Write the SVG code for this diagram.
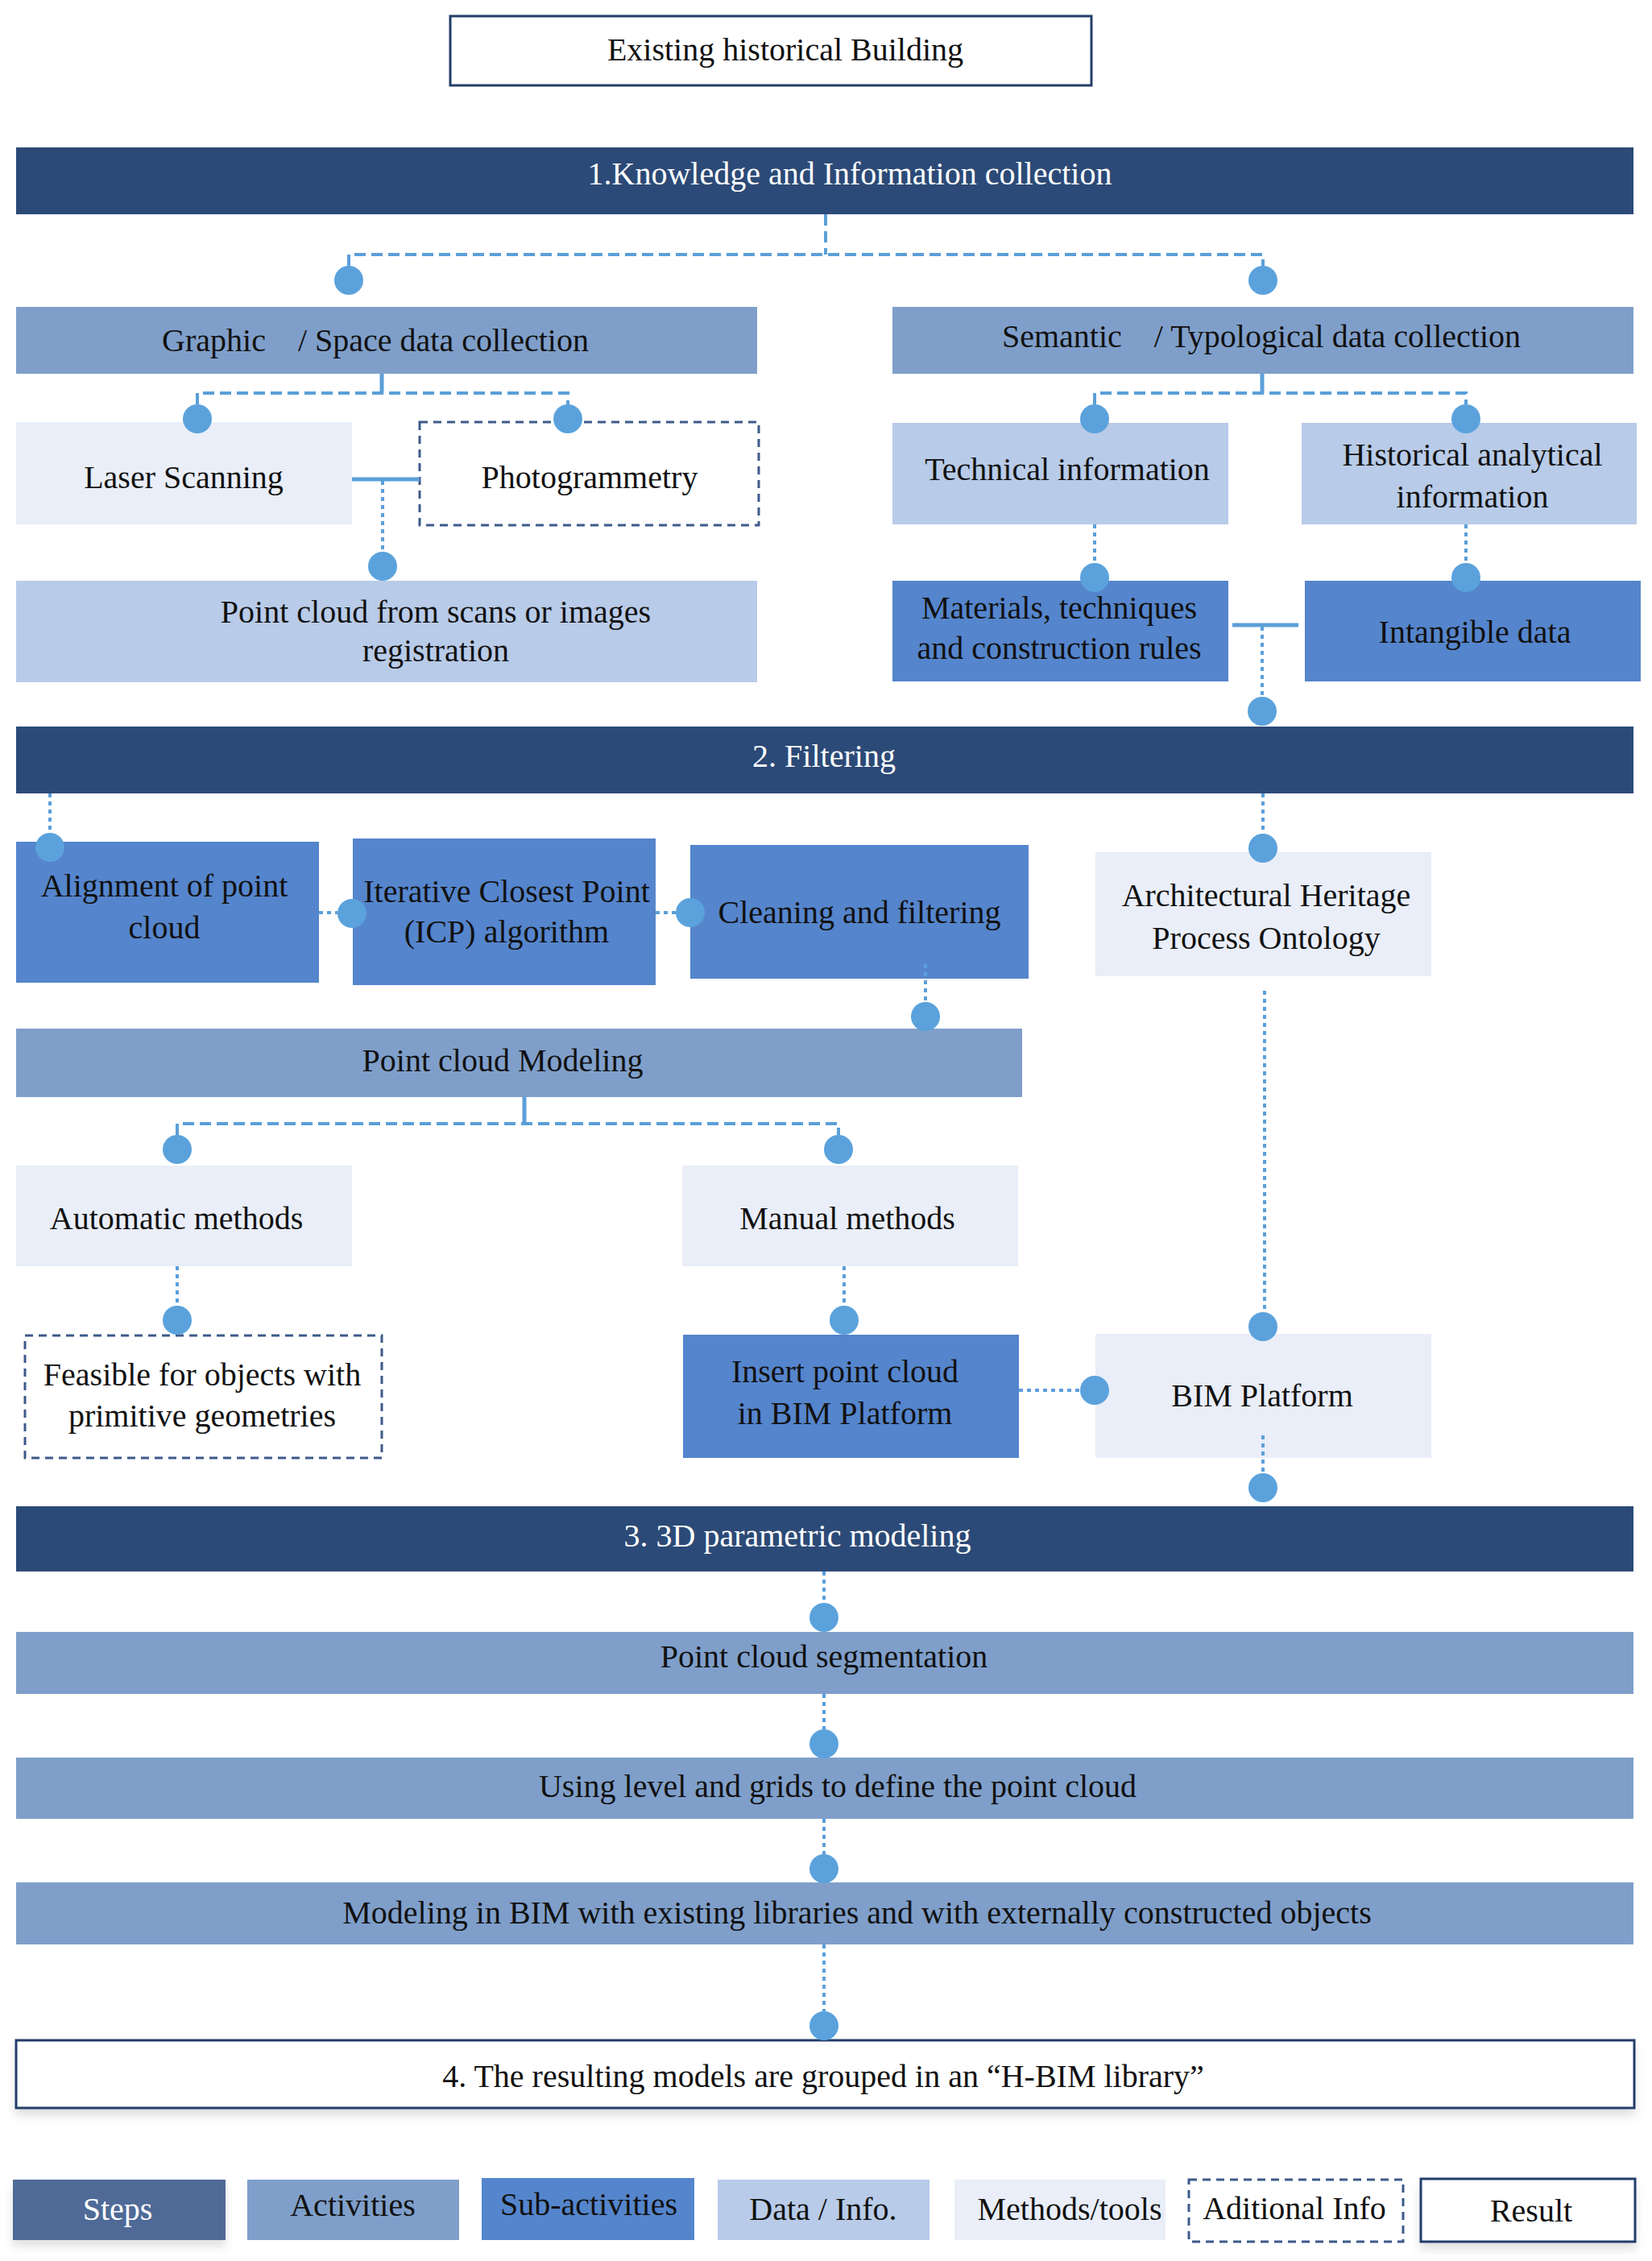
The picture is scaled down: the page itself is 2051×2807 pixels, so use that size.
<svg xmlns="http://www.w3.org/2000/svg" width="2051" height="2807" viewBox="0 0 2051 2807">
<defs>
<style>
.step{fill:#2c4a77}
.act{fill:#7f9fca}
.sub{fill:#5585cc}
.data{fill:#b8cbe8}
.meth{fill:#e9eef8}
.add{fill:#fff;stroke:#3d5a8a;stroke-width:3;stroke-dasharray:10 7}
.res{fill:#fff;stroke:#233e68;stroke-width:3}
.lstep{fill:#4f6b97}
text{font-family:"Liberation Serif","Times New Roman",serif;font-size:40px;fill:#111;text-anchor:middle}
text.w{fill:#fff}
.pre{white-space:pre}
.dash{stroke:#5b9fd9;stroke-width:4;stroke-dasharray:14 7;fill:none}
.dot{stroke:#5b9fd9;stroke-width:4;stroke-dasharray:5 5;fill:none}
.solid{stroke:#5b9fd9;stroke-width:5;fill:none}
.knob{fill:#5ba2dc}
</style>
<filter id="sh" x="-10%" y="-20%" width="120%" height="160%">
<feDropShadow dx="0" dy="8" stdDeviation="6" flood-color="#000" flood-opacity="0.12"/>
</filter>
</defs>
<rect width="2051" height="2807" fill="#fff"/>

<g id="n-building"><rect class="res" x="559" y="20" width="796" height="86"/><text x="975" y="75">Existing historical Building</text></g>
<g id="n-step1"><rect class="step" x="20" y="183" width="2008" height="83"/><text class="w" x="1055" y="229">1.Knowledge and Information collection</text></g>
<g id="n-graphic"><rect class="act" x="20" y="381" width="920" height="83"/><text class="pre" xml:space="preserve" x="466" y="436">Graphic    / Space data collection</text></g>
<g id="n-semantic"><rect class="act" x="1108" y="381" width="920" height="83"/><text class="pre" xml:space="preserve" x="1566" y="431">Semantic    / Typological data collection</text></g>
<g id="n-laser"><rect class="meth" x="20" y="524" width="417" height="127"/><text x="228" y="606">Laser Scanning</text></g>
<g id="n-photo"><rect class="add" x="521" y="524" width="421" height="128"/><text x="732" y="606">Photogrammetry</text></g>
<g id="n-pointcloud"><rect class="data" x="20" y="721" width="920" height="126"/><text x="541" y="773">Point cloud from scans or images</text><text x="541" y="821">registration</text></g>
<g id="n-technical"><rect class="data" x="1108" y="525" width="417" height="126"/><text x="1325" y="596">Technical information</text></g>
<g id="n-historical"><rect class="data" x="1616" y="525" width="416" height="126"/><text x="1828" y="578">Historical analytical</text><text x="1828" y="630">information</text></g>
<g id="n-materials"><rect class="sub" x="1108" y="721" width="417" height="125"/><text x="1315" y="768">Materials, techniques</text><text x="1315" y="818">and construction rules</text></g>
<g id="n-intangible"><rect class="sub" x="1620" y="721" width="417" height="125"/><text x="1831" y="798">Intangible data</text></g>
<g id="n-step2"><rect class="step" x="20" y="902" width="2008" height="83"/><text class="w" x="1023" y="952">2. Filtering</text></g>
<g id="n-alignment"><rect class="sub" x="20" y="1045" width="376" height="175"/><text x="204" y="1113">Alignment of point</text><text x="204" y="1165">cloud</text></g>
<g id="n-icp"><rect class="sub" x="438" y="1041" width="376" height="182"/><text x="629" y="1120">Iterative Closest Point</text><text x="629" y="1170">(ICP) algorithm</text></g>
<g id="n-cleaning"><rect class="sub" x="857" y="1049" width="420" height="166"/><text x="1067" y="1146">Cleaning and filtering</text></g>
<g id="n-ontology"><rect class="meth" x="1360" y="1058" width="417" height="154"/><text x="1572" y="1125">Architectural Heritage</text><text x="1572" y="1178">Process Ontology</text></g>
<g id="n-pcmodel"><rect class="act" x="20" y="1277" width="1249" height="85"/><text x="624" y="1330">Point cloud Modeling</text></g>
<g id="n-auto"><rect class="meth" x="20" y="1447" width="417" height="125"/><text x="219" y="1526">Automatic methods</text></g>
<g id="n-manual"><rect class="meth" x="847" y="1447" width="417" height="125"/><text x="1052" y="1526">Manual methods</text></g>
<g id="n-feasible"><rect class="add" x="31" y="1658" width="443" height="152"/><text x="251" y="1720">Feasible for objects with</text><text x="251" y="1771">primitive geometries</text></g>
<g id="n-insert"><rect class="sub" x="848" y="1657" width="417" height="153"/><text x="1049" y="1716">Insert point cloud</text><text x="1049" y="1768">in BIM Platform</text></g>
<g id="n-bim"><rect class="meth" x="1360" y="1656" width="417" height="154"/><text x="1567" y="1746">BIM Platform</text></g>
<g id="n-step3"><rect class="step" x="20" y="1870" width="2008" height="81"/><text class="w" x="990" y="1920">3. 3D parametric modeling</text></g>
<g id="n-seg"><rect class="act" x="20" y="2026" width="2008" height="77"/><text x="1023" y="2070">Point cloud segmentation</text></g>
<g id="n-levels"><rect class="act" x="20" y="2182" width="2008" height="76"/><text x="1040" y="2231">Using level and grids to define the point cloud</text></g>
<g id="n-modeling"><rect class="act" x="20" y="2337" width="2008" height="77"/><text x="1064" y="2388">Modeling in BIM with existing libraries and with externally constructed objects</text></g>
<g id="n-result"><rect class="res" x="20" y="2533" width="2009" height="84" filter="url(#sh)"/><text x="1022" y="2591">4. The resulting models are grouped in an “H-BIM library”</text></g>

<g id="legend">
<g id="l-steps"><rect class="lstep" x="16" y="2706" width="264" height="75" filter="url(#sh)"/><text class="w" x="146" y="2756">Steps</text></g>
<g id="l-act"><rect class="act" x="307" y="2706" width="263" height="75"/><text x="438" y="2751">Activities</text></g>
<g id="l-sub"><rect class="sub" x="598" y="2704" width="264" height="77"/><text x="731" y="2750">Sub-activities</text></g>
<g id="l-data"><rect class="data" x="891" y="2706" width="263" height="75"/><text x="1022" y="2756">Data / Info.</text></g>
<g id="l-meth"><rect class="meth" x="1185" y="2706" width="262" height="75"/><text x="1328" y="2756">Methods/tools</text></g>
<g id="l-add"><rect class="add" x="1476" y="2706" width="266" height="77"/><text x="1607" y="2755">Aditional Info</text></g>
<g id="l-res"><rect class="res" x="1764" y="2705" width="266" height="78" filter="url(#sh)"/><text x="1901" y="2758">Result</text></g>
</g>

<g id="connectors">
<path class="dash" d="M1025 266V316M433 330V316H1568V330"/>
<path class="solid" d="M474 464V488"/>
<path class="dash" d="M245 502V488H705V502"/>
<path class="solid" d="M1567 464V488"/>
<path class="dash" d="M1359 502V488H1820V502"/>
<path class="solid" d="M437 595H521"/>
<path class="dot" d="M475 597V685"/>
<path class="dot" d="M1359 651V699M1820 651V699"/>
<path class="solid" d="M1530 776H1612"/>
<path class="dot" d="M1567 778V865"/>
<path class="dot" d="M62 985V1034"/>
<path class="dot" d="M396 1133H419M814 1133H839"/>
<path class="dot" d="M1149 1197V1244"/>
<path class="dot" d="M1568 985V1035"/>
<path class="dot" d="M1570 1230V1629"/>
<path class="solid" d="M651 1362V1395"/>
<path class="dash" d="M220 1409V1395H1041V1409"/>
<path class="dot" d="M220 1572V1621M1048 1572V1621"/>
<path class="dot" d="M1265 1726H1341"/>
<path class="dot" d="M1568 1782V1829"/>
<path class="dot" d="M1023 1951V1990M1023 2103V2147M1023 2258V2302M1023 2414V2497"/>
<circle class="knob" cx="433" cy="348" r="18"/>
<circle class="knob" cx="1568" cy="348" r="18"/>
<circle class="knob" cx="245" cy="520" r="18"/>
<circle class="knob" cx="705" cy="520" r="18"/>
<circle class="knob" cx="1359" cy="520" r="18"/>
<circle class="knob" cx="1820" cy="520" r="18"/>
<circle class="knob" cx="475" cy="703" r="18"/>
<circle class="knob" cx="1359" cy="717" r="18"/>
<circle class="knob" cx="1820" cy="717" r="18"/>
<circle class="knob" cx="1567" cy="883" r="18"/>
<circle class="knob" cx="62" cy="1052" r="18"/>
<circle class="knob" cx="437" cy="1134" r="18"/>
<circle class="knob" cx="857" cy="1133" r="18"/>
<circle class="knob" cx="1149" cy="1262" r="18"/>
<circle class="knob" cx="1568" cy="1053" r="18"/>
<circle class="knob" cx="1568" cy="1647" r="18"/>
<circle class="knob" cx="220" cy="1427" r="18"/>
<circle class="knob" cx="1041" cy="1427" r="18"/>
<circle class="knob" cx="220" cy="1639" r="18"/>
<circle class="knob" cx="1048" cy="1639" r="18"/>
<circle class="knob" cx="1359" cy="1726" r="18"/>
<circle class="knob" cx="1568" cy="1847" r="18"/>
<circle class="knob" cx="1023" cy="2008" r="18"/>
<circle class="knob" cx="1023" cy="2165" r="18"/>
<circle class="knob" cx="1023" cy="2320" r="18"/>
<circle class="knob" cx="1023" cy="2515" r="18"/>
</g>
</svg>
